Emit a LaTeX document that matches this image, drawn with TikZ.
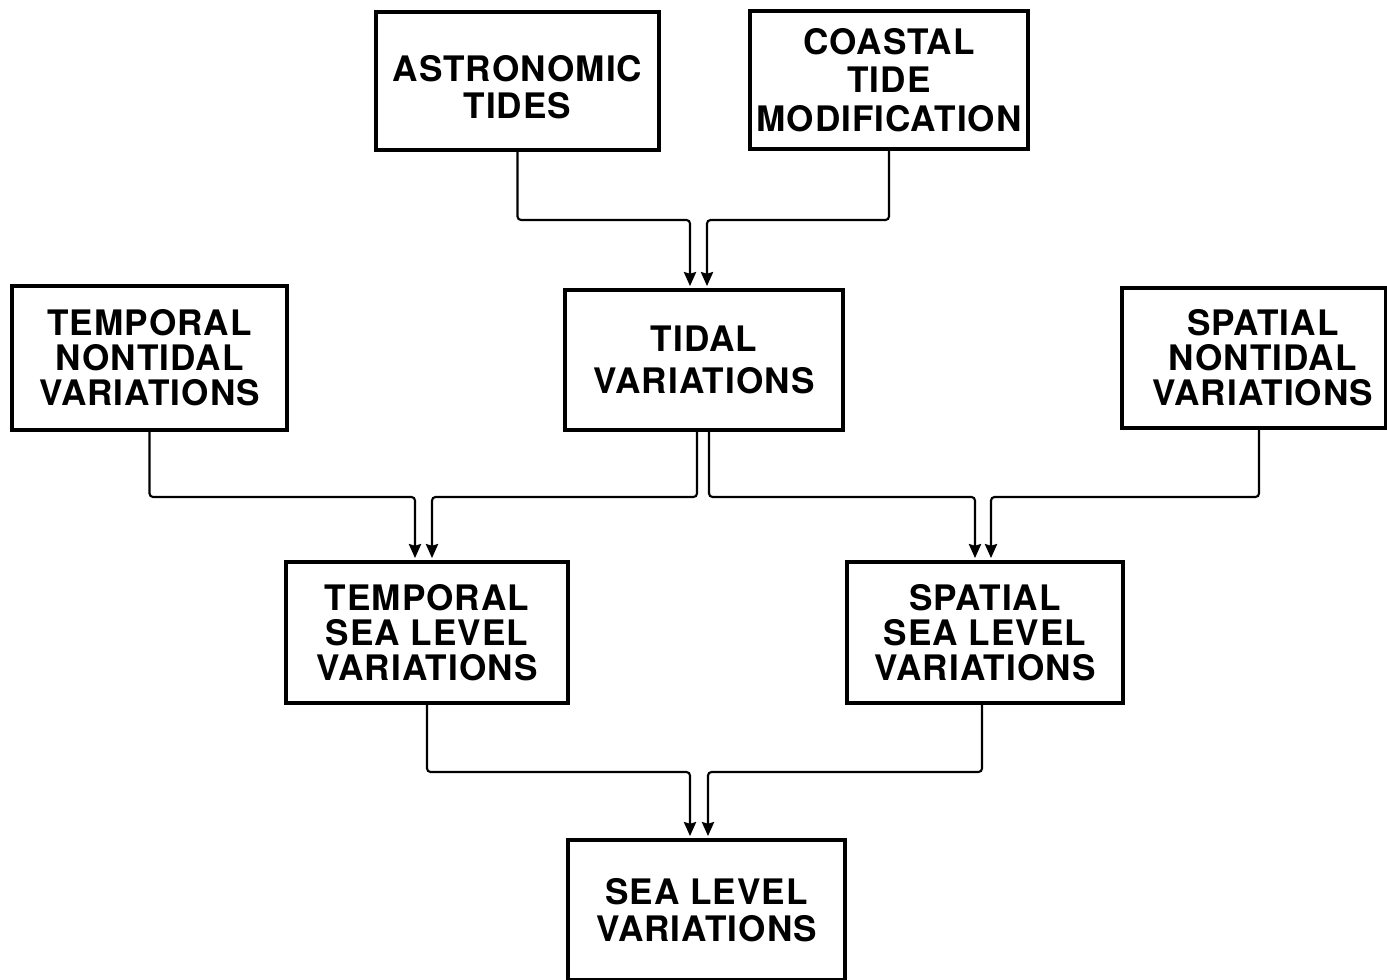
\documentclass[tikz,border=0pt]{standalone}
\usepackage{fontspec}
\setmainfont{TeX Gyre Heros}[LetterSpace=3]
\usetikzlibrary{arrows.meta}
\begin{document}
\begin{tikzpicture}[x=0.02cm,y=-0.02cm,
  box/.style={draw, line width=2.5pt, rectangle, align=center, inner sep=0pt,
    font=\fontsize{20}{20}\selectfont\bfseries},
  conn/.style={line width=1.2pt, rounded corners=2pt,
    -{Stealth[length=8pt,width=7pt,inset=1pt]}, shorten >=1pt}]
\useasboundingbox (0,0) rectangle (1387,980);

% boxes
\node[box, minimum width=283*0.02cm, minimum height=138*0.02cm] (astro) at (517.5,81) {\rule{0pt}{22pt}ASTRONOMIC\\[1pt]TIDES};
\node[box, minimum width=278*0.02cm, minimum height=138*0.02cm] (coast) at (889,80) {COASTAL\\[2pt]TIDE\\[2pt]MODIFICATION};
\node[box, minimum width=275*0.02cm, minimum height=144*0.02cm] (tnon) at (149.5,358) {TEMPORAL\\NONTIDAL\\VARIATIONS};
\node[box, minimum width=278*0.02cm, minimum height=140*0.02cm] (tidal) at (704,360) {TIDAL\\[4pt]VARIATIONS};
\node[box, minimum width=264*0.02cm, minimum height=140*0.02cm] (snon) at (1254,358) {\hspace*{10pt}SPATIAL\\\hspace*{10pt}NONTIDAL\\\hspace*{10pt}VARIATIONS};
\node[box, minimum width=282*0.02cm, minimum height=141*0.02cm] (tsea) at (427,632.5) {TEMPORAL\\SEA LEVEL\\VARIATIONS};
\node[box, minimum width=276*0.02cm, minimum height=141*0.02cm] (ssea) at (985,632.5) {SPATIAL\\SEA LEVEL\\VARIATIONS};
\node[box, minimum width=277*0.02cm, minimum height=140*0.02cm] (sea) at (706.5,910) {SEA LEVEL\\[1pt]VARIATIONS};

% junction points of the connectors
\coordinate (j1) at (690,220);
\coordinate (j2) at (707,220);
\coordinate (j3) at (415,497);
\coordinate (j4) at (432,497);
\coordinate (j5) at (975,497);
\coordinate (j6) at (991,497);
\coordinate (j7) at (690,772);
\coordinate (j8) at (708,772);
\coordinate (t1) at (697,428);
\coordinate (t2) at (709,428);

% connectors
\draw[conn] (astro.south) |- (j1) -- (j1 |- tidal.north);
\draw[conn] (coast.south) |- (j2) -- (j2 |- tidal.north);
\draw[conn] (tnon.south) |- (j3) -- (j3 |- tsea.north);
\draw[conn] (t1) |- (j4) -- (j4 |- tsea.north);
\draw[conn] (t2) |- (j5) -- (j5 |- ssea.north);
\draw[conn] ([xshift=5*0.02cm]snon.south) |- (j6) -- (j6 |- ssea.north);
\draw[conn] (tsea.south) |- (j7) -- (j7 |- sea.north);
\draw[conn] ([xshift=-3*0.02cm]ssea.south) |- (j8) -- (j8 |- sea.north);
\end{tikzpicture}
\end{document}
